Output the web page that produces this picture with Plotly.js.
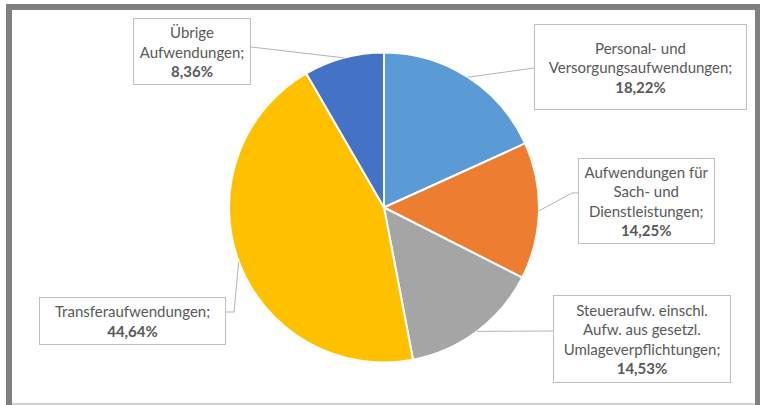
<!DOCTYPE html>
<html>
<head>
<meta charset="utf-8">
<script src="https://cdn.plot.ly/plotly-3.0.1.min.js"></script>
<style>html,body{margin:0;padding:0;background:#fff;}#chart{width:760px;height:405px;}</style>
</head>
<body>
<div id="chart"></div>
<script>
// Data
const categories = ["Personal- und Versorgungsaufwendungen", "Aufwendungen für Sach- und Dienstleistungen", "Steueraufw. einschl. Aufw. aus gesetzl. Umlageverpflichtungen", "Transferaufwendungen", "Übrige Aufwendungen"];
const values = [18.22, 14.25, 14.53, 44.64, 8.36];
const labelLines = [
  ["Personal- und", "Versorgungsaufwendungen;"],
  ["Aufwendungen für", "Sach- und", "Dienstleistungen;"],
  ["Steueraufw. einschl.", "Aufw. aus gesetzl.", "Umlageverpflichtungen;"],
  ["Transferaufwendungen;"],
  ["Übrige", "Aufwendungen;"]
];
const colors = ["#5B9BD5", "#ED7D31", "#A5A5A5", "#FFC000", "#4472C4"];

const W = 760, H = 405;
// pie geometry (pixels)
const cx = 384, cy = 207.5, R = 155;
const px = x => x / W, py = y => 1 - y / H;

// label boxes (pixel layout) and leader-line start paths
const boxes = [
  {x0: 534, x1: 747, y0: 24, y1: 110, lead: [[534, 68]]},
  {x0: 578, x1: 715, y0: 158, y1: 244, lead: [[578, 193], [572, 193]]},
  {x0: 553, x1: 731, y0: 295, y1: 383, lead: [[553, 331]]},
  {x0: 39, x1: 226, y0: 297, y1: 345, lead: [[226, 312], [234, 312]]},
  {x0: 133, x1: 251, y0: 18, y1: 85, lead: [[251, 47]]}
];

const total = values.reduce((a, b) => a + b, 0);
const fmt = v => (v / total * 100).toFixed(2).replace('.', ',') + '%';

const annotations = [];
const shapes = [];
let cum = 0;
values.forEach((v, i) => {
  const mid = (cum + v / 2) / total;
  cum += v;
  const ang = mid * 2 * Math.PI;
  const ex = cx + R * Math.sin(ang), ey = cy - R * Math.cos(ang);
  const b = boxes[i];
  const pts = b.lead.concat([[ex, ey]]);
  let d = pts.map((p, k) => (k ? 'L' : 'M') + px(p[0]) + ',' + py(p[1])).join(' ');
  shapes.push({type: 'path', xref: 'paper', yref: 'paper', path: d, line: {color: '#b3b3b3', width: 1}});
  annotations.push({
    xref: 'paper', yref: 'paper',
    x: px((b.x0 + b.x1) / 2), y: py((b.y0 + b.y1) / 2),
    xanchor: 'center', yanchor: 'middle',
    showarrow: false,
    text: labelLines[i].join('<br>') + '<br><b>' + fmt(v) + '</b>',
    align: 'center', valign: 'middle',
    width: b.x1 - b.x0 - 2, height: b.y1 - b.y0 - 2,
    borderpad: 0, borderwidth: 1, bordercolor: '#bfbfbf', bgcolor: '#ffffff',
    font: {family: 'Lato, Calibri, sans-serif', size: 15, color: '#595959'}
  });
});

// outer frame
shapes.push({type: 'rect', xref: 'paper', yref: 'paper', x0: px(6), x1: px(12), y0: 0, y1: py(4), fillcolor: '#808080', line: {width: 0}, layer: 'above'});
shapes.push({type: 'rect', xref: 'paper', yref: 'paper', x0: px(6), x1: 1, y0: py(10), y1: py(4), fillcolor: '#808080', line: {width: 0}, layer: 'above'});
shapes.push({type: 'rect', xref: 'paper', yref: 'paper', x0: px(755), x1: 1, y0: 0, y1: py(4), fillcolor: '#808080', line: {width: 0}, layer: 'above'});
shapes.push({type: 'rect', xref: 'paper', yref: 'paper', x0: px(12), x1: px(755), y0: py(405), y1: py(403), fillcolor: '#d0d0d0', line: {width: 0}, layer: 'above'});

const trace = {
  type: 'pie',
  labels: categories,
  values: values,
  sort: false,
  direction: 'clockwise',
  rotation: 0,
  textinfo: 'none',
  hoverinfo: 'label+percent',
  marker: {colors: colors, line: {color: '#ffffff', width: 2}},
  domain: {x: [px(cx - R), px(cx + R)], y: [py(cy + R), py(cy - R)]},
  showlegend: false
};

Plotly.newPlot('chart', [trace], {
  width: W, height: H,
  margin: {l: 0, r: 0, t: 0, b: 0},
  paper_bgcolor: '#ffffff',
  showlegend: false,
  annotations: annotations,
  shapes: shapes
}, {displayModeBar: false, staticPlot: true});
</script>
</body>
</html>
